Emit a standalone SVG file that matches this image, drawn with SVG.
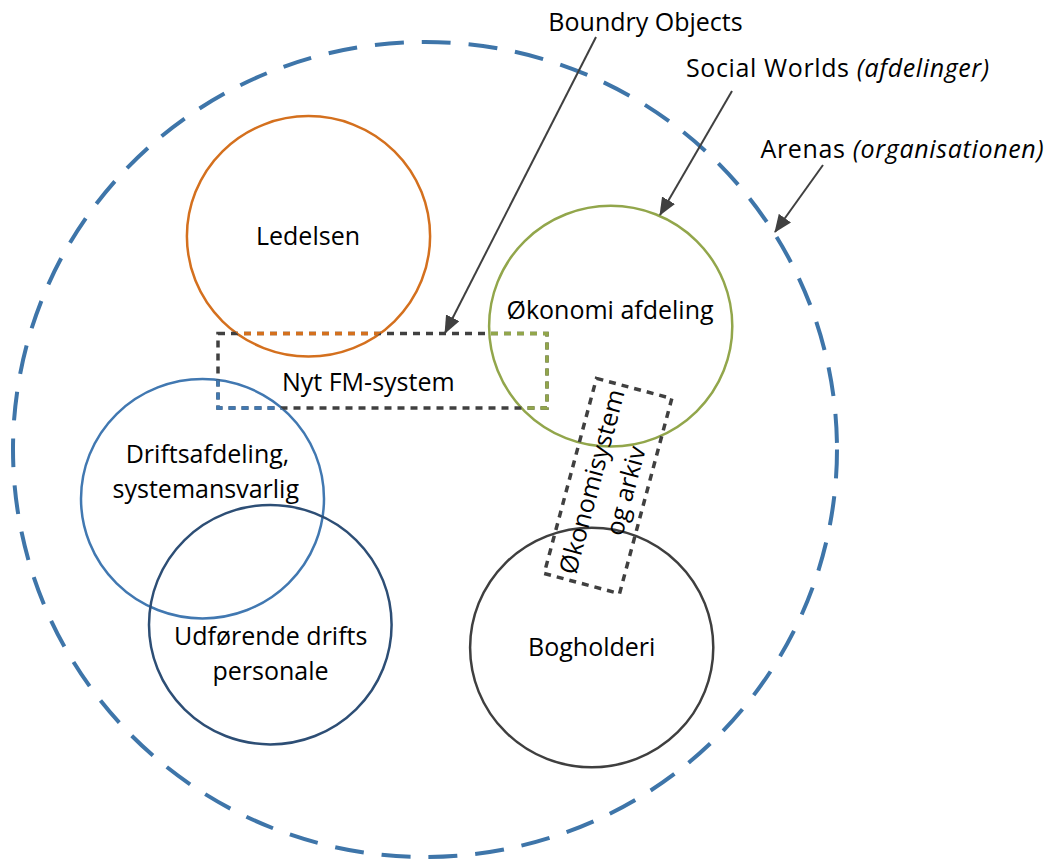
<svg xmlns="http://www.w3.org/2000/svg" width="1053" height="859" viewBox="0 0 1053 859">
  <style>
    .lbl { font-family: "Open Sans", "Liberation Sans", sans-serif; font-size: 25px; fill: #000; text-anchor: middle; }
    .it { font-style: italic; }
    .world { fill: none; stroke-width: 2.5; }
    .bo { fill: none; stroke-width: 3.5; stroke-dasharray: 7 6; }
    .arrow { fill: none; stroke: #404040; stroke-width: 2; marker-end: url(#head); }
  </style>
  <defs>
    <marker id="head" viewBox="0 0 18 15" refX="17" refY="7.5" markerWidth="18" markerHeight="15" markerUnits="userSpaceOnUse" orient="auto">
      <path d="M0,0 L18,7.5 L0,15 z" fill="#404040"/>
    </marker>
    <clipPath id="inLedelsen"><ellipse cx="308.5" cy="236.3" rx="121.6" ry="120.2"/></clipPath>
    <clipPath id="inOkonomi"><ellipse cx="610.7" cy="326.2" rx="121.6" ry="120.4"/></clipPath>
    <clipPath id="inDrift"><ellipse cx="202.5" cy="498.7" rx="121.5" ry="119.7"/></clipPath>
  </defs>

  <!-- arena: the organisation as a whole -->
  <g id="arena">
    <ellipse cx="425" cy="449.5" rx="412" ry="407.5" fill="none" stroke="#3E75A9" stroke-width="4" stroke-dasharray="29 18"/>
  </g>

  <!-- social worlds -->
  <g id="ledelsen">
    <ellipse class="world" cx="308.5" cy="236.3" rx="121.6" ry="120.2" stroke="#D4701E"/>
    <text class="lbl" x="308" y="245.3">Ledelsen</text>
  </g>
  <g id="okonomi-afdeling">
    <ellipse class="world" cx="610.7" cy="326.2" rx="121.6" ry="120.4" stroke="#92A64B"/>
    <text class="lbl" x="610" y="319">Økonomi afdeling</text>
  </g>
  <g id="driftsafdeling">
    <ellipse class="world" cx="202.5" cy="498.7" rx="121.5" ry="119.7" stroke="#4178B1"/>
    <text class="lbl" x="207.5" y="462.7">Driftsafdeling,</text>
    <text class="lbl" x="205.8" y="497.7">systemansvarlig</text>
  </g>
  <g id="udforende">
    <ellipse class="world" cx="270.3" cy="624.7" rx="121.3" ry="119.7" stroke="#2D4E75"/>
    <text class="lbl" x="270.7" y="645">Udførende drifts</text>
    <text class="lbl" x="270.5" y="680">personale</text>
  </g>
  <g id="bogholderi">
    <ellipse class="world" cx="591.7" cy="647.5" rx="121.6" ry="119.8" stroke="#3F3F3F"/>
    <text class="lbl" x="591.7" y="655.7">Bogholderi</text>
  </g>

  <!-- boundary objects -->
  <g id="nyt-fm-system">
    <rect class="bo" x="218" y="333.5" width="329" height="74.5" stroke="#404040"/>
    <rect class="bo" x="218" y="333.5" width="329" height="74.5" stroke="#D4701E" clip-path="url(#inLedelsen)"/>
    <rect class="bo" x="218" y="333.5" width="329" height="74.5" stroke="#92A64B" clip-path="url(#inOkonomi)"/>
    <rect class="bo" x="218" y="333.5" width="329" height="74.5" stroke="#4178B1" clip-path="url(#inDrift)"/>
    <text class="lbl" x="368.3" y="390.5">Nyt FM-system</text>
  </g>
  <g id="okonomisystem" transform="translate(608,486) rotate(15)">
    <rect class="bo" x="-39" y="-101" width="78" height="202" stroke="#404040"/>
    <g transform="rotate(-90)">
      <text class="lbl" x="0" y="-8">Økonomisystem</text>
      <text class="lbl" x="0" y="27">og arkiv</text>
    </g>
  </g>

  <!-- callout labels -->
  <g id="callouts">
    <text class="lbl" x="645.5" y="30.5">Boundry Objects</text>
    <text class="lbl" x="837.5" y="77.3" textLength="303" lengthAdjust="spacing">Social Worlds <tspan class="it">(afdelinger)</tspan></text>
    <text class="lbl" x="902" y="158.3" textLength="283" lengthAdjust="spacing">Arenas <tspan class="it">(organisationen)</tspan></text>
  </g>

  <!-- connectors -->
  <g id="connectors">
    <line class="arrow" x1="596" y1="37" x2="445" y2="333"/>
    <line class="arrow" x1="732" y1="91" x2="660" y2="215"/>
    <line class="arrow" x1="823" y1="165" x2="775" y2="232"/>
  </g>
</svg>
